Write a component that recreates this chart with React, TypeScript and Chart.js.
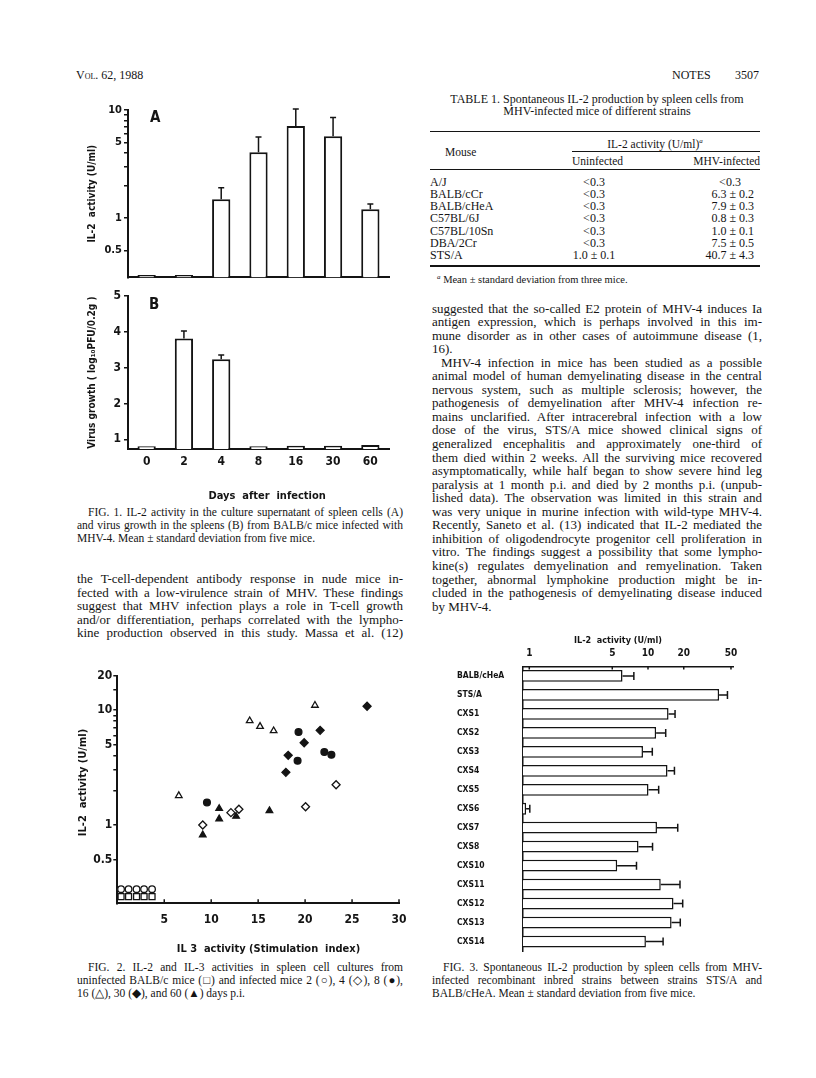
import React, { useEffect, useRef } from "react";
import { Chart, registerables } from "chart.js";

Chart.register(...registerables);

const CHART_FONT = "'Liberation Sans Narrow', 'DejaVu Sans Condensed', 'Arial Narrow', sans-serif";
const SERIF = "'Liberation Serif', 'Times New Roman', Times, serif";
const INK = "#141414";

// ---------------- Figure 1 data ----------------
const fig1Days = ["0", "2", "4", "8", "16", "30", "60"];
const fig1Il2Mean = [0.295, 0.295, 1.49, 4.05, 7.1, 5.7, 1.2];
const fig1Il2Sd = [0, 0, 0.41, 1.57, 3.1, 2.8, 0.14];
const fig1Il2TickValues = [0.5, 1, 2, 3, 4, 5, 6, 7, 8, 9, 10];
const fig1Il2TickLabels = ["0.5", "1", "5", "10"];
const fig1VirusMean = [0.81, 3.82, 3.24, 0.81, 0.82, 0.82, 0.84];
const fig1VirusSd = [0, 0.21, 0.12, 0, 0, 0, 0];
const fig1VirusTickValues = [1, 2, 3, 4, 5];

// ---------------- Figure 2 data ----------------
const fig2XTickValues = [5, 10, 15, 20, 25, 30];
const fig2YTickValues = [0.5, 1, 2, 3, 4, 5, 6, 7, 8, 9, 10, 15, 20];
const fig2YTickLabels = ["0.5", "1", "5", "10", "20"];
const uninfectedX = [0.4, 1.2, 2.05, 2.85, 3.7];
const uninfectedY = [0.238, 0.238, 0.238, 0.238, 0.238];
const day2X = [0.4, 1.2, 2.05, 2.85, 3.7];
const day2Y = [0.276, 0.276, 0.276, 0.276, 0.276];
const day4X = [9.1, 12.1, 12.95, 20.05, 23.3];
const day4Y = [1.0, 1.28, 1.37, 1.44, 2.24];
const day8X = [9.55, 19.3, 19.2, 22.05, 22.8];
const day8Y = [1.57, 6.44, 3.62, 4.31, 4.08];
const day16X = [6.55, 14.1, 15.2, 16.65, 21.05];
const day16Y = [1.8, 8.07, 7.2, 6.6, 11.0];
const day30X = [17.95, 18.2, 19.9, 21.6, 26.6];
const day30Y = [2.87, 4.04, 5.2, 6.66, 10.8];
const day60X = [9.1, 10.85, 10.85, 12.65, 16.2];
const day60Y = [0.82, 1.13, 1.39, 1.19, 1.33];

// ---------------- Figure 3 data ----------------
const fig3Strains = ["BALB/cHeA", "STS/A", "CXS1", "CXS2", "CXS3", "CXS4", "CXS5", "CXS6", "CXS7", "CXS8", "CXS10", "CXS11", "CXS12", "CXS13", "CXS14"];
const fig3Mean = [6.1, 39.7, 14.9, 11.7, 9.07, 14.6, 10.1, 0.94, 11.9, 8.32, 5.5, 12.8, 16.4, 15.8, 9.6];
const fig3Sd = [1.5, 7.0, 2.0, 2.4, 1.8, 2.1, 2.2, 0.07, 5.9, 2.6, 2.5, 5.8, 3.2, 2.9, 3.8];
const fig3TickValues = [1, 5, 10, 20, 50];

// ---------------- Table 1 data ----------------
const tableMice = ["A/J", "BALB/cCr", "BALB/cHeA", "C57BL/6J", "C57BL/10Sn", "DBA/2Cr", "STS/A"];
const tableUninfected = ["<0.3", "<0.3", "<0.3", "<0.3", "<0.3", "<0.3", "1.0 ± 0.1"];
const tableInfected = ["<0.3", "6.3 ± 0.2", "7.9 ± 0.3", "0.8 ± 0.3", "1.0 ± 0.1", "7.5 ± 0.5", "40.7 ± 4.3"];

// ---------------- Text ----------------
const fig1Caption = [
  { t: "FIG. 1. IL-2 activity in the culture supernatant of spleen cells (A)", j: true, indent: 11 },
  { t: "and virus growth in the spleens (B) from BALB/c mice infected with", j: true },
  { t: "MHV-4. Mean ± standard deviation from five mice." },
];
const leftBody = [
  { t: "the T-cell-dependent antibody response in nude mice in-", j: true },
  { t: "fected with a low-virulence strain of MHV. These findings", j: true },
  { t: "suggest that MHV infection plays a role in T-cell growth", j: true },
  { t: "and/or differentiation, perhaps correlated with the lympho-", j: true },
  { t: "kine production observed in this study. Massa et al. (12)", j: true },
];
const rightBody = [
  { t: "suggested that the so-called E2 protein of MHV-4 induces Ia", j: true },
  { t: "antigen expression, which is perhaps involved in this im-", j: true },
  { t: "mune disorder as in other cases of autoimmune disease (1,", j: true },
  { t: "16)." },
  { t: "MHV-4 infection in mice has been studied as a possible", j: true, indent: 9 },
  { t: "animal model of human demyelinating disease in the central", j: true },
  { t: "nervous system, such as multiple sclerosis; however, the", j: true },
  { t: "pathogenesis of demyelination after MHV-4 infection re-", j: true },
  { t: "mains unclarified. After intracerebral infection with a low", j: true },
  { t: "dose of the virus, STS/A mice showed clinical signs of", j: true },
  { t: "generalized encephalitis and approximately one-third of", j: true },
  { t: "them died within 2 weeks. All the surviving mice recovered", j: true },
  { t: "asymptomatically, while half began to show severe hind leg", j: true },
  { t: "paralysis at 1 month p.i. and died by 2 months p.i. (unpub-", j: true },
  { t: "lished data). The observation was limited in this strain and", j: true },
  { t: "was very unique in murine infection with wild-type MHV-4.", j: true },
  { t: "Recently, Saneto et al. (13) indicated that IL-2 mediated the", j: true },
  { t: "inhibition of oligodendrocyte progenitor cell proliferation in", j: true },
  { t: "vitro. The findings suggest a possibility that some lympho-", j: true },
  { t: "kine(s) regulates demyelination and remyelination. Taken", j: true },
  { t: "together, abnormal lymphokine production might be in-", j: true },
  { t: "cluded in the pathogenesis of demyelinating disease induced", j: true },
  { t: "by MHV-4." },
];
const fig2Caption = [
  { t: "FIG. 2. IL-2 and IL-3 activities in spleen cell cultures from", j: true, indent: 11 },
  { t: "uninfected BALB/c mice (□) and infected mice 2 (○), 4 (◇), 8 (●),", j: true },
  { t: "16 (△), 30 (◆), and 60 (▲) days p.i." },
];
const fig3Caption = [
  { t: "FIG. 3. Spontaneous IL-2 production by spleen cells from MHV-", j: true, indent: 11 },
  { t: "infected recombinant inbred strains between strains STS/A and", j: true },
  { t: "BALB/cHeA. Mean ± standard deviation from five mice." },
];

// ---------------- helpers ----------------
const font = (size: number) => ({ family: CHART_FONT, size, weight: "bold" as const, lineHeight: 1.2 });

const errorBarPlugin = {
  id: "errorBars",
  afterDatasetsDraw(chart: any) {
    const ctx = chart.ctx;
    const horizontal = chart.options.indexAxis === "y";
    chart.data.datasets.forEach((ds: any, di: number) => {
      if (!ds.sd) return;
      const meta = chart.getDatasetMeta(di);
      const vScale = horizontal ? chart.scales.x : chart.scales.y;
      const cap = ds.capSize || 3;
      ctx.save();
      ctx.strokeStyle = INK;
      ctx.lineWidth = ds.errorWidth || 1.5;
      meta.data.forEach((el: any, i: number) => {
        const s = ds.sd[i];
        if (!s) return;
        const p = vScale.getPixelForValue(ds.data[i] + s);
        ctx.beginPath();
        if (horizontal) {
          ctx.moveTo(el.x, el.y);
          ctx.lineTo(p, el.y);
          ctx.moveTo(p, el.y - cap);
          ctx.lineTo(p, el.y + cap);
        } else {
          ctx.moveTo(el.x, el.y);
          ctx.lineTo(el.x, p);
          ctx.moveTo(el.x - cap, p);
          ctx.lineTo(el.x + cap, p);
        }
        ctx.stroke();
      });
      ctx.restore();
    });
  },
};

const innerTicksPlugin = {
  id: "innerTicks",
  afterDraw(chart: any, _args: any, opts: any) {
    if (!opts || !opts.values) return;
    const scale = chart.scales[opts.axis];
    const ctx = chart.ctx;
    const area = chart.chartArea;
    ctx.save();
    ctx.strokeStyle = INK;
    ctx.lineWidth = opts.width || 1.5;
    opts.values.forEach((v: number) => {
      const px = scale.getPixelForValue(v);
      ctx.beginPath();
      if (opts.side === "bottom") {
        ctx.moveTo(px, area.bottom);
        ctx.lineTo(px, area.bottom - opts.length);
      } else {
        ctx.moveTo(px, area.top);
        ctx.lineTo(px, area.top + opts.length);
      }
      ctx.stroke();
    });
    ctx.restore();
  },
};

function fig1AConfig(): any {
  return {
    type: "bar",
    data: {
      labels: fig1Days,
      datasets: [{ data: fig1Il2Mean, sd: fig1Il2Sd, base: 0.28, backgroundColor: "#fff", borderColor: INK, borderWidth: 2, barPercentage: 0.49, categoryPercentage: 1, capSize: 3 }],
    },
    options: {
      responsive: false, animation: false, devicePixelRatio: 1,
      layout: { autoPadding: false, padding: { left: 0, top: 10, right: 11, bottom: 3 } },
      plugins: { legend: { display: false }, tooltip: { enabled: false } },
      scales: {
        x: { grid: { display: false, drawTicks: false }, ticks: { display: false }, border: { color: INK, width: 2 }, afterFit: (s: any) => { s.height = 0; } },
        y: {
          type: "logarithmic", min: 0.28, max: 10,
          afterBuildTicks: (s: any) => { s.ticks = fig1Il2TickValues.map((v) => ({ value: v })); },
          ticks: { callback: (v: any) => (fig1Il2TickLabels.includes(String(v)) ? String(v) : ""), font: font(11), color: INK, padding: 2, autoSkip: false },
          grid: { drawOnChartArea: false, drawTicks: true, tickLength: 4, color: INK, lineWidth: 1.5 },
          border: { color: INK, width: 2 },
          title: { display: true, text: "IL-2  activity (U/ml)", font: font(10), color: INK, padding: { top: 16, bottom: 0 } },
          afterFit: (s: any) => { s.width = 58; },
        },
      },
    },
    plugins: [errorBarPlugin],
  };
}

function fig1BConfig(): any {
  return {
    type: "bar",
    data: {
      labels: fig1Days,
      datasets: [{ data: fig1VirusMean, sd: fig1VirusSd, base: 0.73, backgroundColor: "#fff", borderColor: INK, borderWidth: 2, barPercentage: 0.49, categoryPercentage: 1, capSize: 3 }],
    },
    options: {
      responsive: false, animation: false, devicePixelRatio: 1,
      layout: { autoPadding: false, padding: { left: 0, top: 9, right: 11, bottom: 0 } },
      plugins: { legend: { display: false }, tooltip: { enabled: false } },
      scales: {
        x: {
          grid: { display: false, drawTicks: false },
          ticks: { font: font(12), color: INK, padding: 5.5, maxRotation: 0, autoSkip: false },
          border: { color: INK, width: 2 },
          title: { display: true, text: "     Days  after  infection", font: font(11), color: INK, padding: { top: 0, bottom: 3.4 } },
          afterFit: (s: any) => { s.height = 57; },
        },
        y: {
          type: "linear", min: 0.73, max: 5,
          afterBuildTicks: (s: any) => { s.ticks = fig1VirusTickValues.map((v) => ({ value: v })); },
          ticks: { callback: (v: any) => String(v), font: font(12), color: INK, padding: 3, autoSkip: false },
          grid: { drawOnChartArea: false, drawTicks: true, tickLength: 4, color: INK, lineWidth: 1.5 },
          border: { color: INK, width: 2 },
          title: { display: true, text: "Virus growth ( log₁₀PFU/0.2g )", font: font(10), color: INK, padding: { top: 16, bottom: 0 } },
          afterFit: (s: any) => { s.width = 58; },
        },
      },
    },
    plugins: [errorBarPlugin],
  };
}

const pts = (xs: number[], ys: number[]) => xs.map((x, i) => ({ x, y: ys[i] }));
const series = (label: string, xs: number[], ys: number[], style: string, filled: boolean, radius: number) => ({
  label, data: pts(xs, ys), pointStyle: style, pointRadius: radius,
  pointBackgroundColor: filled ? INK : "#fff", pointBorderColor: INK, pointBorderWidth: 1.3, showLine: false,
});

function fig2Config(): any {
  return {
    type: "scatter",
    data: {
      datasets: [
        series("uninfected", uninfectedX, uninfectedY, "rect", false, 4.2),
        series("2 days", day2X, day2Y, "circle", false, 3.3),
        series("4 days", day4X, day4Y, "rectRot", false, 4),
        series("8 days", day8X, day8Y, "circle", true, 3.4),
        series("16 days", day16X, day16Y, "triangle", false, 3.8),
        series("30 days", day30X, day30Y, "rectRot", true, 4),
        series("60 days", day60X, day60Y, "triangle", true, 3.8),
      ],
    },
    options: {
      responsive: false, animation: false, devicePixelRatio: 1,
      layout: { autoPadding: false, padding: { left: 0, top: 15.5, right: 21, bottom: 0 } },
      plugins: { legend: { display: false }, tooltip: { enabled: false }, innerTicks: { axis: "x", side: "bottom", values: fig2XTickValues, length: 4 } },
      scales: {
        x: {
          type: "linear", min: 0, max: 30,
          afterBuildTicks: (s: any) => { s.ticks = fig2XTickValues.map((v) => ({ value: v })); },
          ticks: { callback: (v: any) => String(v), font: font(12), color: INK, padding: 9.5, maxRotation: 0, autoSkip: false },
          grid: { display: false, drawTicks: false },
          border: { color: INK, width: 2 },
          title: { display: true, text: "      IL 3  activity (Stimulation  index)", font: font(11), color: INK, padding: { top: 0, bottom: 4 } },
          afterFit: (s: any) => { s.height = 56.7; },
        },
        y: {
          type: "logarithmic", min: 0.208, max: 20,
          afterBuildTicks: (s: any) => { s.ticks = fig2YTickValues.map((v) => ({ value: v })); },
          ticks: { callback: (v: any) => (fig2YTickLabels.includes(String(v)) ? String(v) : ""), font: font(12), color: INK, padding: 1, autoSkip: false },
          grid: { drawOnChartArea: false, drawTicks: true, tickLength: 4, color: INK, lineWidth: 1.5 },
          border: { color: INK, width: 2 },
          title: { display: true, text: "    IL-2  activity (U/ml)", font: font(11), color: INK, padding: { top: 36.4, bottom: 0 } },
          afterFit: (s: any) => { s.width = 77.3; },
        },
      },
    },
    plugins: [innerTicksPlugin],
  };
}

function fig3Config(): any {
  return {
    type: "bar",
    data: {
      labels: fig3Strains,
      datasets: [{ data: fig3Mean, sd: fig3Sd, base: 0.88, backgroundColor: "#fff", borderColor: INK, borderWidth: 1.5, barPercentage: 0.62, categoryPercentage: 1, capSize: 4, errorWidth: 1.5 }],
    },
    options: {
      indexAxis: "y", responsive: false, animation: false, devicePixelRatio: 1,
      layout: { autoPadding: false, padding: { left: 17, right: 37, top: 0, bottom: 9 } },
      plugins: { legend: { display: false }, tooltip: { enabled: false }, innerTicks: { axis: "x", side: "top", values: fig3TickValues, length: 3 } },
      scales: {
        x: {
          type: "logarithmic", position: "top", min: 0.88, max: 52,
          afterBuildTicks: (s: any) => { s.ticks = fig3TickValues.map((v) => ({ value: v })); },
          ticks: { callback: (v: any) => String(v), font: font(10), color: INK, padding: 7, maxRotation: 0, autoSkip: false },
          grid: { display: false, drawTicks: false },
          border: { color: INK, width: 1.5 },
          title: { display: true, text: "IL-2  activity (U/ml)       ", font: font(9), color: INK, padding: { top: 5, bottom: 0 } },
          afterFit: (s: any) => { s.height = 36.5; },
        },
        y: {
          type: "category",
          grid: { display: false, drawTicks: false },
          border: { color: INK, width: 1.5 },
          ticks: { crossAlign: "far", font: font(8.5), color: INK, autoSkip: false, padding: 0 },
          afterFit: (s: any) => { s.width = 65.7; },
        },
      },
    },
    plugins: [errorBarPlugin, innerTicksPlugin],
  };
}

function ChartBox({ left, top, width, height, make }: { left: number; top: number; width: number; height: number; make: () => any }) {
  const ref = useRef<HTMLCanvasElement | null>(null);
  useEffect(() => {
    if (!ref.current) return;
    const chart = new Chart(ref.current, make());
    return () => chart.destroy();
  }, []);
  return (
    <div style={{ position: "absolute", left, top, width, height }}>
      <canvas ref={ref} width={width} height={height} style={{ width, height, display: "block" }} />
    </div>
  );
}

type Ln = { t: string; j?: boolean; indent?: number };

function Lines({ x, y0, w, lh, size, lines }: { x: number; y0: number; w: number; lh: number; size: number; lines: Ln[] }) {
  return (
    <>
      {lines.map((ln, i) => {
        const ind = ln.indent || 0;
        return (
          <div
            key={i}
            style={{
              position: "absolute", left: x + ind, top: y0 + i * lh - lh / 2, width: w - ind, height: lh,
              lineHeight: lh + "px", fontSize: size, fontFamily: SERIF,
              textAlign: ln.j ? "justify" : "left", textAlignLast: ln.j ? "justify" : "left",
              whiteSpace: ln.j ? "normal" : "nowrap",
            }}
          >
            {ln.t}
          </div>
        );
      })}
    </>
  );
}

function Txt({ x, y, text, size, w, align, family, weight, italic }: any) {
  const h = Math.round(size * 1.2);
  return (
    <div
      style={{
        position: "absolute", left: x, top: y - h / 2, width: w, height: h, lineHeight: h + "px",
        fontSize: size, fontFamily: family || SERIF, fontWeight: weight || "normal", fontStyle: italic ? "italic" : "normal",
        textAlign: align || "left", whiteSpace: "nowrap",
      }}
    >
      {text}
    </div>
  );
}

function Rule({ x1, x2, y, t }: { x1: number; x2: number; y: number; t: number }) {
  return <div style={{ position: "absolute", left: x1, top: y - t / 2, width: x2 - x1, height: t, background: INK }} />;
}

export default function App() {
  const rowY = (i: number) => 181.5 + i * 12.3;
  return (
    <div style={{ position: "absolute", left: 0, top: 0, width: 816, height: 1078, background: "#fff", color: INK, overflow: "hidden" }}>
      {/* running header */}
      <Txt x={76} y={75} size={12} text={<span><span style={{ fontVariant: "small-caps" }}>Vol.</span> 62, 1988</span>} />
      <Txt x={672} y={75} size={12} text="NOTES" />
      <Txt x={735} y={75} size={12} text="3507" />

      {/* Figure 1 */}
      <ChartBox left={70} top={100} width={330} height={186} make={fig1AConfig} />
      <ChartBox left={70} top={286} width={330} height={220} make={fig1BConfig} />
      <Txt x={150} y={117} size={15} family={CHART_FONT} weight="bold" text="A" />
      <Txt x={149} y={303.5} size={15} family={CHART_FONT} weight="bold" text="B" />
      <Lines x={77} y0={512} w={326} lh={13} size={11.5} lines={fig1Caption} />
      <Lines x={77} y0={579} w={326} lh={13.4} size={13} lines={leftBody} />

      {/* Figure 2 */}
      <ChartBox left={40} top={660} width={380} height={300} make={fig2Config} />
      <Lines x={77} y0={967} w={326} lh={13} size={11.5} lines={fig2Caption} />

      {/* Table 1 */}
      <Txt x={432} y={99} w={330} align="center" size={12} text="TABLE 1. Spontaneous IL-2 production by spleen cells from" />
      <Txt x={432} y={110.5} w={330} align="center" size={12} text="MHV-infected mice of different strains" />
      <Rule x1={430} x2={760} y={131.5} t={1.5} />
      <Txt x={572} y={141} w={166} align="center" size={11.5} text={<span>IL-2 activity (U/ml)<sup style={{ fontSize: 7, fontStyle: "italic" }}>a</sup></span>} />
      <Rule x1={572} x2={760} y={151} t={1} />
      <Txt x={445} y={151.5} size={11.5} text="Mouse" />
      <Txt x={572} y={161} size={11.5} text="Uninfected" />
      <Txt x={660} y={161} w={100} align="right" size={11.5} text="MHV-infected" />
      <Rule x1={430} x2={760} y={169.5} t={1.5} />
      {tableMice.map((m, i) => (
        <Txt key={"m" + i} x={430} y={rowY(i)} size={12} text={m} />
      ))}
      {tableUninfected.map((v, i) => (
        <Txt key={"u" + i} x={544} y={rowY(i)} w={100} align="center" size={12} text={v} />
      ))}
      {tableInfected.map((v, i) =>
        v.startsWith("<") ? (
          <Txt key={"v" + i} x={680} y={rowY(i)} w={100} align="center" size={12} text={v} />
        ) : (
          <Txt key={"v" + i} x={654} y={rowY(i)} w={100} align="right" size={12} text={v} />
        )
      )}
      <Rule x1={430} x2={760} y={266} t={1.5} />
      <Txt x={437} y={277.3} size={10.5} text={<span><sup style={{ fontSize: 7, fontStyle: "italic" }}>a</sup> Mean ± standard deviation from three mice.</span>} />

      {/* right column body */}
      <Lines x={432} y0={308.3} w={330} lh={13.55} size={13} lines={rightBody} />

      {/* Figure 3 */}
      <ChartBox left={440} top={630} width={330} height={330} make={fig3Config} />
      <Lines x={432} y0={967} w={330} lh={13} size={11.5} lines={fig3Caption} />
    </div>
  );
}
